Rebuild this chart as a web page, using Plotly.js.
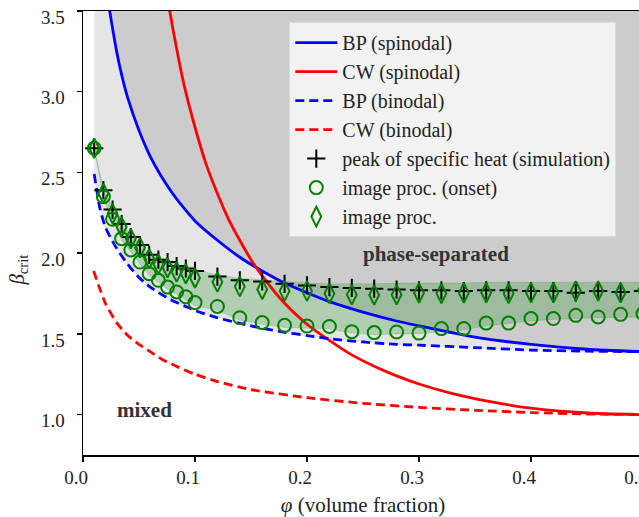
<!DOCTYPE html>
<html>
<head>
<meta charset="utf-8">
<script src="https://cdn.plot.ly/plotly-3.0.1.min.js"></script>
<style>
html, body { margin: 0; padding: 0; overflow: hidden; background: #fff; }
#chart { width: 645px; height: 517px; }
</style>
</head>
<body>
<div id="chart"></div>
<script>
// volume fractions of the measured points
const phi = [0.01, 0.0182, 0.0264, 0.0345, 0.0427, 0.0509, 0.0591, 0.0673, 0.0755, 0.0836, 0.0918, 0.1,
             0.12, 0.14, 0.16, 0.18, 0.2, 0.22, 0.24, 0.26, 0.28, 0.3, 0.32, 0.34, 0.36, 0.38, 0.4,
             0.42, 0.44, 0.46, 0.48, 0.5];
// peak of specific heat (simulation)
const peakSim = [2.65, 2.39, 2.27, 2.18, 2.10, 2.05, 1.99, 1.96, 1.945, 1.92, 1.905, 1.89,
                 1.855, 1.832, 1.825, 1.81, 1.80, 1.79, 1.785, 1.78, 1.775, 1.77, 1.77, 1.765, 1.77, 1.77, 1.765,
                 1.765, 1.755, 1.765, 1.76, 1.765];
// image proc. (onset)
const onset = [2.65, 2.35, 2.21, 2.09, 2.02, 1.945, 1.873, 1.832, 1.79, 1.76, 1.73, 1.694,
               1.67, 1.60, 1.57, 1.553, 1.549, 1.546, 1.514, 1.508, 1.512, 1.505, 1.533, 1.533, 1.567, 1.567, 1.595,
               1.595, 1.615, 1.605, 1.621, 1.625];
// image proc.
const imageProc = [2.65, 2.37, 2.245, 2.162, 2.09, 2.034, 1.966, 1.931, 1.91, 1.883, 1.873, 1.847,
                   1.821, 1.793, 1.775, 1.765, 1.765, 1.75, 1.743, 1.741, 1.743, 1.753, 1.75, 1.753, 1.755, 1.75, 1.755,
                   1.755, 1.766, 1.766, 1.755, 1.77];
// green shaded band (lower / upper edge)
const bandLow = [2.65, 2.34, 2.20, 2.08, 2.005, 1.93, 1.86, 1.82, 1.775, 1.745, 1.71, 1.675,
                 1.645, 1.585, 1.56, 1.54, 1.535, 1.53, 1.505, 1.495, 1.50, 1.50, 1.515, 1.525, 1.55, 1.565, 1.58,
                 1.59, 1.595, 1.60, 1.60, 1.605];
const bandHigh = [2.65, 2.40, 2.28, 2.19, 2.11, 2.06, 2.00, 1.97, 1.955, 1.93, 1.915, 1.90,
                  1.865, 1.845, 1.835, 1.825, 1.815, 1.81, 1.81, 1.81, 1.815, 1.815, 1.815, 1.815, 1.82, 1.82, 1.82,
                  1.82, 1.82, 1.82, 1.82, 1.82];

// BP (spinodal)
const bpSpinPhi = [0.022, 0.025, 0.03, 0.035, 0.04, 0.05, 0.06, 0.07, 0.08, 0.09, 0.1, 0.12, 0.14, 0.16, 0.18,
                   0.2, 0.22, 0.25, 0.28, 0.3, 0.35, 0.4, 0.45, 0.5];
const bpSpinBeta = [3.58, 3.45, 3.25, 3.09, 2.96, 2.76, 2.60, 2.475, 2.37, 2.28, 2.20, 2.08, 1.975, 1.89, 1.815,
                    1.755, 1.70, 1.635, 1.58, 1.55, 1.48, 1.435, 1.405, 1.39];
// BP (binodal)
const bpBinPhi = [0.01, 0.0125, 0.015, 0.02, 0.025, 0.03, 0.04, 0.05, 0.06, 0.07, 0.08, 0.09, 0.1, 0.12, 0.14,
                  0.16, 0.18, 0.2, 0.22, 0.25, 0.28, 0.3, 0.35, 0.4, 0.45, 0.5];
const bpBinBeta = [2.49, 2.38, 2.28, 2.16, 2.09, 2.03, 1.93, 1.85, 1.79, 1.745, 1.705, 1.675, 1.645, 1.60, 1.565,
                   1.535, 1.51, 1.49, 1.47, 1.45, 1.435, 1.43, 1.415, 1.40, 1.393, 1.39];
// CW (spinodal)
const cwSpinPhi = [0.075, 0.08, 0.09, 0.1, 0.11, 0.12, 0.13, 0.14, 0.15, 0.16, 0.18, 0.2, 0.22, 0.24, 0.26,
                   0.28, 0.3, 0.33, 0.36, 0.4, 0.45, 0.5];
const cwSpinBeta = [3.60, 3.40, 3.05, 2.78, 2.55, 2.37, 2.21, 2.08, 1.96, 1.86, 1.69, 1.56, 1.46, 1.37, 1.30,
                    1.24, 1.19, 1.13, 1.085, 1.04, 1.01, 1.0];
// CW (binodal)
const cwBinPhi = [0.0095, 0.015, 0.02, 0.03, 0.04, 0.05, 0.06, 0.07, 0.08, 0.1, 0.12, 0.15, 0.2, 0.25, 0.3,
                  0.35, 0.4, 0.45, 0.5];
const cwBinBeta = [1.89, 1.78, 1.69, 1.57, 1.49, 1.435, 1.39, 1.345, 1.31, 1.25, 1.205, 1.155, 1.105, 1.07, 1.045,
                   1.027, 1.013, 1.004, 1.0];

const yTicks = [1.0, 1.5, 2.0, 2.5, 3.0, 3.5];
const xTicks = [0.0, 0.1, 0.2, 0.3, 0.4, 0.5];

const BLUE = '#0000ff', RED = '#ff0000', GREEN = '#008000';
const TOP = 3.6;
const LW = 2.8;
const FONT = '"Liberation Serif", "Times New Roman", serif';

// region polygons built from the curve arrays
const lightX = bpBinPhi.concat([bpBinPhi[bpBinPhi.length - 1], bpBinPhi[0]]);
const lightY = bpBinBeta.concat([TOP, TOP]);
const darkX = bpSpinPhi.concat([bpSpinPhi[bpSpinPhi.length - 1], bpSpinPhi[0]]);
const darkY = bpSpinBeta.concat([TOP, TOP]);

const traces = [
  {x: lightX, y: lightY, mode: 'lines', fill: 'toself', fillcolor: '#e5e5e5',
   line: {width: 0.6, color: '#d8d8d8'}, showlegend: false, hoverinfo: 'skip'},
  {x: darkX, y: darkY, mode: 'lines', fill: 'toself', fillcolor: '#cccccc',
   line: {width: 0, color: '#cccccc'}, showlegend: false, hoverinfo: 'skip'},
  {x: phi, y: bandLow, mode: 'lines', line: {width: 0.8, color: 'rgba(0,128,0,0.2)'},
   showlegend: false, hoverinfo: 'skip'},
  {x: phi, y: bandHigh, mode: 'lines', fill: 'tonexty', fillcolor: 'rgba(0,128,0,0.22)',
   line: {width: 0.8, color: 'rgba(0,128,0,0.2)'}, showlegend: false, hoverinfo: 'skip'},

  {x: bpSpinPhi, y: bpSpinBeta, mode: 'lines', name: 'BP (spinodal)',
   line: {color: BLUE, width: LW, shape: 'spline', smoothing: 0.6}},
  {x: cwSpinPhi, y: cwSpinBeta, mode: 'lines', name: 'CW (spinodal)',
   line: {color: RED, width: LW, shape: 'spline', smoothing: 0.6}},
  {x: bpBinPhi, y: bpBinBeta, mode: 'lines', name: 'BP (binodal)',
   line: {color: BLUE, width: LW, dash: '9px,5px', shape: 'spline', smoothing: 0.6}},
  {x: cwBinPhi, y: cwBinBeta, mode: 'lines', name: 'CW (binodal)',
   line: {color: RED, width: LW, dash: '9px,5px', shape: 'spline', smoothing: 0.6}},

  {x: phi, y: peakSim, mode: 'markers', name: 'peak of specific heat (simulation)',
   marker: {symbol: 'cross-thin-open', size: 13, color: '#000', line: {width: 2, color: '#000'}}},
  {x: phi, y: onset, mode: 'markers', name: 'image proc. (onset)',
   marker: {symbol: 'circle-open', size: 13, color: GREEN, line: {width: 2, color: GREEN}}},
  {x: phi, y: imageProc, mode: 'markers', name: 'image proc.',
   marker: {symbol: 'diamond-tall-open', size: 14, color: GREEN, line: {width: 2, color: GREEN}}}
];

const axisCommon = {
  showline: true, linecolor: '#000', linewidth: 1.5, mirror: true,
  ticks: 'outside', ticklen: 5, tickwidth: 1.5, tickcolor: '#000',
  showgrid: false, zeroline: false,
  tickfont: {family: FONT, size: 19, color: '#222'}
};

const layout = {
  width: 645, height: 517,
  margin: {l: 82.7, r: 2.3, t: 10.7, b: 62},
  paper_bgcolor: '#fff', plot_bgcolor: '#fff',
  font: {family: FONT, color: '#222'},
  xaxis: Object.assign({}, axisCommon, {
    range: [0, 0.5], tickvals: xTicks, tickformat: '.1f',
    ticklabeloverflow: 'allow', ticklabelshift: -7,
    title: {text: '<i>φ</i> (volume fraction)', font: {family: FONT, size: 21, color: '#222'}, standoff: 12}
  }),
  yaxis: Object.assign({}, axisCommon, {
    range: [0.75, 3.5], tickvals: yTicks, tickformat: '.1f', ticklabelstandoff: 8, ticklabelshift: 6
  }),
  legend: {
    x: 0.3684, y: 0.975, xanchor: 'left', yanchor: 'top', traceorder: 'normal',
    itemwidth: 42,
    bgcolor: 'rgba(245,245,245,0.92)', bordercolor: '#dcdcdc', borderwidth: 1,
    font: {family: FONT, size: 20, color: '#222'}
  },
  annotations: [
    {xref: 'paper', yref: 'paper', x: -0.1155, y: 0.416, text: '<i>β</i><sub>crit</sub>',
     textangle: -90, showarrow: false, xanchor: 'center', yanchor: 'middle',
     font: {family: FONT, size: 21, color: '#222'}},
    {xref: 'x', yref: 'y', x: 0.315, y: 1.995, text: '<b>phase-separated</b>', showarrow: false,
     font: {family: FONT, size: 21, color: '#333'}},
    {xref: 'x', yref: 'y', x: 0.055, y: 1.03, text: '<b>mixed</b>', showarrow: false,
     font: {family: FONT, size: 21, color: '#333'}}
  ],
  showlegend: true
};

Plotly.newPlot('chart', traces, layout, {staticPlot: true, displayModeBar: false});
</script>
</body>
</html>
